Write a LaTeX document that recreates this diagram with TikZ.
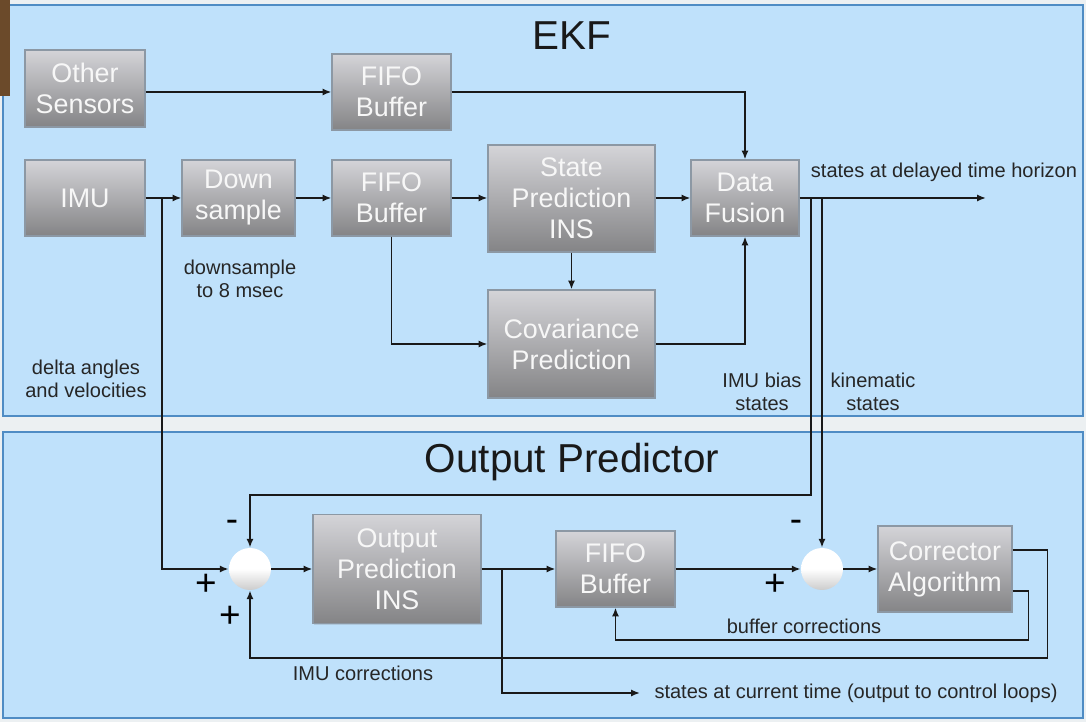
\documentclass[tikz,border=0pt]{standalone}
\usepackage{fontspec}
\setmainfont{Liberation Sans}
\usepackage{xcolor}
\usepackage{tikz}
\usetikzlibrary{positioning, shadows, calc, arrows.meta}

\definecolor{panelblue}{HTML}{BFE1FB}
\definecolor{paneledge}{HTML}{4F8CC4}
\definecolor{boxtop}{HTML}{D4D4D8}
\definecolor{boxbot}{HTML}{848486}
\definecolor{boxedge}{HTML}{8C98A4}
\definecolor{woodframe}{HTML}{6B4A2A}
\definecolor{gapgray}{HTML}{ECF0F2}

\tikzset{
  blk/.style={rectangle, top color=boxtop, bottom color=boxbot, draw=boxedge, line width=0.6pt,
    inner sep=0pt, text=white!94!gray, font=\fontsize{15.3}{17.6}\selectfont, align=center,
    drop shadow={opacity=0.25, shadow xshift=0.6pt, shadow yshift=-0.8pt}},
  sumnode/.style={circle, minimum size=0.84cm, inner sep=0pt, top color=white, bottom color=gray!40,
    middle color=white, draw=none},
  lbl/.style={font=\fontsize{11.4}{12.8}\selectfont, align=center, text=black!85},
  ttl/.style={font=\fontsize{23}{26}\selectfont, text=black!90},
  sgn/.style={font=\fontsize{21}{21}\selectfont, inner sep=0pt},
  ln/.style={line width=1.1pt, black!90},
  arr/.style={ln, -{Latex[length=5pt,width=4pt]}}
}

\begin{document}
\begin{tikzpicture}[x=0.02cm, y=-0.02cm]
  % panels
  \fill[gapgray] (0,0) rectangle (1086,722);
  \draw[fill=panelblue, draw=paneledge, line width=1pt] (3,5) rectangle (1083,416);
  \draw[fill=panelblue, draw=paneledge, line width=1pt] (3,432) rectangle (1083,718);
  \fill[woodframe] (0,0) rectangle (10,96);
  \node[ttl] (ekf) at (572,36) {EKF};
  \node[ttl] (optitle) at (572,462) {Output Predictor};

  % EKF blocks
  \node[blk, minimum width=2.4cm, minimum height=1.54cm] (oth) at (85,88.5) {Other\\Sensors};
  \node[blk, minimum width=2.38cm, minimum height=1.52cm] (fifoa) at (391.5,92) {FIFO\\Buffer};
  \node[blk, minimum width=2.4cm, minimum height=1.52cm] (imu) at (85,198) {IMU};
  \node[blk, minimum width=2.26cm, minimum height=1.52cm] (down) at (238.5,198) {Down\\sample};
  \node[blk, minimum width=2.38cm, minimum height=1.52cm] (fifob) at (391.5,198) {FIFO\\Buffer};
  \node[blk, minimum width=3.34cm, minimum height=2.14cm] (state) at (571.5,198.5) {State\\Prediction\\INS};
  \node[blk, minimum width=2.16cm, minimum height=1.52cm] (fusion) at (745,198) {Data\\Fusion};
  \node[blk, minimum width=3.34cm, minimum height=2.16cm] (cov) at (571.5,344) {Covariance\\Prediction};

  % output predictor blocks
  \node[sumnode] (suma) at (250,569) {};
  \node[blk, minimum width=3.36cm, minimum height=2.18cm] (opi) at (397,569) {Output\\Prediction\\INS};
  \node[blk, minimum width=2.38cm, minimum height=1.52cm] (fifoc) at (615.5,569) {FIFO\\Buffer};
  \node[sumnode] (sumb) at (822,569) {};
  \node[blk, minimum width=2.68cm, minimum height=1.72cm] (corr) at (945,569) {Corrector\\Algorithm};

  % EKF connectors
  \draw[arr] (oth.east |- fifoa.west) -- (fifoa.west);
  \draw[arr] (fifoa.east) -| (fusion.north);
  \coordinate (ja) at (162,198);
  \draw[ln] (imu.east) -- (ja);
  \draw[arr] (ja) -- (down.west);
  \draw[arr] (down.east) -- (fifob.west);
  \draw[arr] (fifob.east) -- (state.west |- fifob.east);
  \draw[arr] (state.east |- fusion.west) -- (fusion.west);
  \draw[arr] (fifob.south) |- (cov.west);
  \draw[arr] (state.south) -- (cov.north);
  \draw[arr] (cov.east) -| (fusion.south);
  \coordinate (delayed) at (986,198);
  \draw[arr] (fusion.east) -- (delayed);

  % EKF to output predictor
  \coordinate (jb) at (811,198);
  \coordinate (jc) at (sumb.north |- fusion.east);
  \draw[arr] (ja) |- (suma.west);
  \draw[arr] (jb) -- ++(0,297) -| (suma.north);
  \draw[arr] (jc) -- (sumb.north);

  % output predictor connectors
  \draw[arr] (suma.east) -- (opi.west);
  \draw[arr] (opi.east) -- (fifoc.west);
  \coordinate (jd) at (502,569);
  \coordinate (cur) at (640,693);
  \draw[arr] (jd) |- (cur);
  \draw[arr] (fifoc.east) -- (sumb.west);
  \draw[arr] (sumb.east) -- (corr.west);
  \draw[arr] ([yshift=0.38cm]corr.east) -- ++(35,0) |- (suma |- 0,658) -- (suma.south);
  \draw[arr] ([yshift=-0.44cm]corr.east) -- ++(16,0) |- (fifoc |- 0,640) -- (fifoc.south);

  % labels
  \node[lbl] (dslbl) at (240,279) {downsample\\to 8 msec};
  \node[lbl] (dalbl) at (86,379) {delta angles\\and velocities};
  \node[lbl] (dtlbl) at (944,172) {states at delayed time horizon};
  \node[lbl] (biaslbl) at (762,392) {IMU bias\\states};
  \node[lbl] (kinlbl) at (873,392) {kinematic\\states};
  \node[lbl] (curlbl) at (856,693) {states at current time (output to control loops)};
  \node[lbl] (imucor) at (363,673) {IMU corrections};
  \node[lbl] (bufcor) at (804,626) {buffer corrections};
  \node[sgn] (ma) at (232,526) {-};
  \node[sgn] (pa) at (206,585) {+};
  \node[sgn] (pb) at (230,617) {+};
  \node[sgn] (pc) at (775,585) {+};
  \node[sgn] (mb) at (796,526) {-};
\end{tikzpicture}
\end{document}
